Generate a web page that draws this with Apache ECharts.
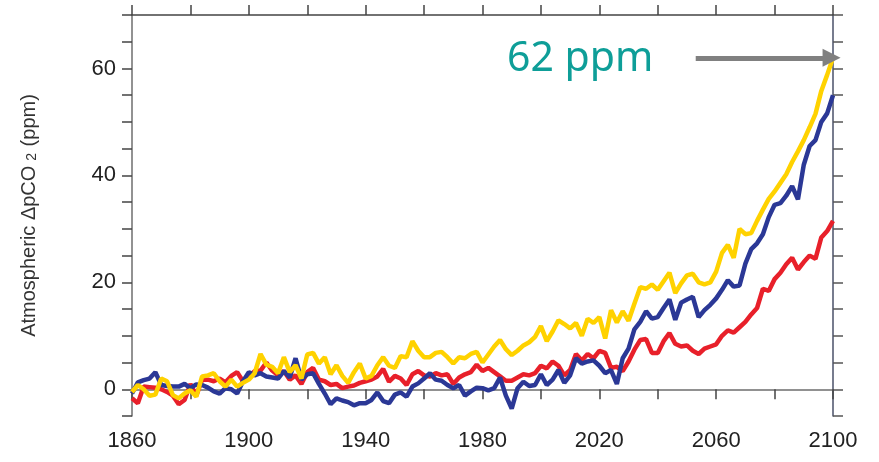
<!DOCTYPE html>
<html>
<head>
<meta charset="utf-8">
<script src="https://cdn.jsdelivr.net/npm/echarts@6/dist/echarts.min.js"></script>
<style>html,body{margin:0;padding:0;background:#fff;}#c{width:879px;height:462px;}</style>
</head>
<body>
<div id="c"></div>
<script>
// Years (2-year steps)
var years = [];
for (var yr = 1860; yr <= 2100; yr += 2) years.push(yr);

var yellowVals = [-0.5,0.8,0,-1.2,-1.0,2.0,1.5,-1.1,-1.7,-0.8,-0.2,-1.4,2.4,2.6,3.0,1.5,0.5,1.8,0.5,1.2,
1.8,3.0,6.6,4.6,4.2,3.0,6.0,3.2,4.5,2.0,6.5,6.8,4.8,6.0,2.8,4.5,2.5,1.2,3.2,4.8,
2.0,2.5,4.5,6.0,4.4,4.0,6.2,6.0,9.0,7.2,6.0,6.0,6.8,7.0,6.0,4.8,6.0,5.8,6.6,7.0,
5.0,6.5,8.0,9.2,7.5,6.4,7.2,8.2,8.8,9.8,11.8,9.0,10.8,12.9,12.2,11.4,12.4,10.0,13.2,12.4,
13.5,9.5,14.8,12.5,14.6,12.8,16.0,19.1,18.8,19.6,18.6,20.2,21.8,18.0,19.8,21.3,21.6,20.0,19.6,20.0,
22.0,25.5,27.0,24.6,30.0,29.0,29.2,31.5,33.6,35.6,37.0,38.6,40.2,42.5,44.5,46.6,49.0,51.5,55.8,58.8,62.0];

var blueVals = [-0.8,1.3,1.7,2.0,3.2,0.8,0.6,0.5,0.5,1.0,0.2,0.9,0.8,0.3,-0.4,-0.8,0.2,0.0,-0.8,1.5,
3.2,2.6,3.0,2.4,2.2,2.0,3.4,2.2,5.8,1.8,2.8,3.0,1.0,-0.8,-2.8,-1.7,-2.1,-2.4,-3.0,-2.6,
-2.6,-2.0,-0.6,-2.2,-2.6,-1.0,-0.6,-1.4,0.5,1.1,2.0,3.0,1.8,1.6,0.8,0.2,0.8,-1.2,-0.4,0.3,
0.2,-0.2,0.2,2.2,-1.2,-3.6,0.2,1.4,0.6,0.8,2.8,0.8,1.8,3.6,1.2,2.6,5.8,4.8,5.2,5.4,
4.4,3.0,3.6,1.0,5.8,7.6,11.2,12.6,14.6,13.2,13.5,15.2,16.8,13.0,16.2,16.8,17.3,13.5,14.8,15.8,
17.0,18.6,20.4,19.2,19.4,23.5,26.2,27.3,29.0,32.2,34.5,34.8,36.2,38.0,35.5,42.0,45.5,46.6,50.0,51.6,55.0];

var redVals = [-1.7,-2.6,0.5,0.4,0.3,0.0,-0.5,-1.2,-2.8,-2.0,1.0,-1.2,1.8,1.8,1.5,2.0,1.3,2.5,3.2,1.5,
2.4,3.4,3.5,5.0,3.5,2.6,3.4,1.8,2.6,1.0,3.2,4.0,1.8,1.5,0.8,1.0,0.2,0.5,0.7,1.2,
1.5,1.8,2.4,3.8,1.4,2.5,2.0,0.8,2.8,3.4,2.6,2.4,3.0,2.6,2.8,1.0,2.2,2.8,3.2,4.6,
3.4,4.0,3.2,2.4,1.6,1.6,2.2,2.8,2.6,3.0,4.4,3.9,5.2,4.4,2.6,3.6,6.6,5.4,6.6,5.8,
7.2,6.8,4.0,4.2,3.4,5.2,7.4,9.2,9.4,6.8,6.8,9.0,10.5,8.5,8.0,8.2,7.2,6.6,7.6,8.0,
8.4,10.0,11.0,10.6,11.6,12.6,14.0,15.2,18.8,18.4,20.6,21.8,23.4,24.6,22.4,23.8,25.0,24.4,28.4,29.6,31.5];

var xTickLabels = [1860, 1900, 1940, 1980, 2020, 2060, 2100];
var yTickLabels = [0, 20, 40, 60];
var annotationText = '62 ppm';
var arrowFromYear = 2053;
var arrowToYear = 2100;
var arrowValue = 62;

function pairs(vals) { return years.map(function (y, i) { return [y, vals[i]]; }); }

var axisColor = '#6e6e6e';
var labelFont = { fontFamily: 'Liberation Sans, Arial, sans-serif', fontSize: 22, color: '#222' };

var chart = echarts.init(document.getElementById('c'), null, { renderer: 'canvas' });
chart.setOption({
  animation: false,
  backgroundColor: '#fff',
  grid: { left: 132, right: 46, top: 15, bottom: 46 },
  xAxis: [{
    type: 'value', min: 1860, max: 2100, interval: 20, position: 'bottom',
    axisLine: { show: true, lineStyle: { color: axisColor, width: 1.5 } },
    axisTick: { show: true, length: 10, lineStyle: { color: '#444', width: 1.5 } },
    splitLine: { show: false },
    axisLabel: Object.assign({ margin: 14, formatter: function (v) { return xTickLabels.indexOf(v) >= 0 ? String(v) : ''; } }, labelFont)
  }, {
    type: 'value', min: 1860, max: 2100, interval: 20, position: 'top',
    axisLine: { show: true, onZero: false, lineStyle: { color: '#444', width: 1.5 } },
    axisTick: { show: true, length: 10, lineStyle: { color: '#444', width: 1.5 } },
    splitLine: { show: false }, axisLabel: { show: false }
  }],
  yAxis: [{
    type: 'value', min: -5, max: 70, interval: 5, position: 'left',
    axisLine: { show: true, onZero: false, lineStyle: { color: axisColor, width: 1.5 } },
    axisTick: { show: true, length: 10, lineStyle: { color: '#444', width: 1.5 } },
    splitLine: { show: false },
    axisLabel: Object.assign({ margin: 16, formatter: function (v) { return yTickLabels.indexOf(v) >= 0 ? String(v) : ''; } }, labelFont),
    name: '{a|Atmospheric ΔpCO}{s| 2}{a| (ppm)}',
    nameLocation: 'middle', nameGap: 93, nameRotate: 90,
    nameTextStyle: {
      rich: {
        a: { fontFamily: 'Liberation Sans, Arial, sans-serif', fontSize: 20, color: '#333', lineHeight: 26, verticalAlign: 'bottom' },
        s: { fontFamily: 'Liberation Sans, Arial, sans-serif', fontSize: 14, color: '#333', lineHeight: 26, verticalAlign: 'bottom', padding: [12, 1, 0, 1] }
      }
    }
  }, {
    type: 'value', min: -5, max: 70, interval: 5, position: 'right',
    axisLine: { show: true, onZero: false, lineStyle: { color: '#4a5068', width: 1.5 } },
    axisTick: { show: true, length: 10, lineStyle: { color: '#555', width: 1.5 } },
    splitLine: { show: false }, axisLabel: { show: false }
  }],
  series: [{
    type: 'line', name: 'red', data: pairs(redVals), showSymbol: false, symbol: 'none',
    lineStyle: { color: '#e8202a', width: 4.5 }, z: 2
  }, {
    type: 'line', name: 'blue', data: pairs(blueVals), showSymbol: false, symbol: 'none',
    lineStyle: { color: '#2b3896', width: 4.5 }, z: 3
  }, {
    type: 'line', name: 'yellow', data: pairs(yellowVals), showSymbol: false, symbol: 'none',
    lineStyle: { color: '#ffd200', width: 4.5 }, z: 4,
    markLine: {
      silent: true, symbol: ['none', 'triangle'], symbolSize: [18, 18],
      label: { show: false },
      lineStyle: { color: '#808080', width: 5, type: 'solid' },
      data: [[{ coord: [arrowFromYear, arrowValue] }, { coord: [arrowToYear - 0.5, arrowValue] }]]
    }
  }],
  graphic: [{
    type: 'text', left: 507, top: 39,
    style: { text: annotationText, fill: '#0e9e98', font: '41px "Noto Sans", sans-serif' }
  }]
});
</script>
</body>
</html>
